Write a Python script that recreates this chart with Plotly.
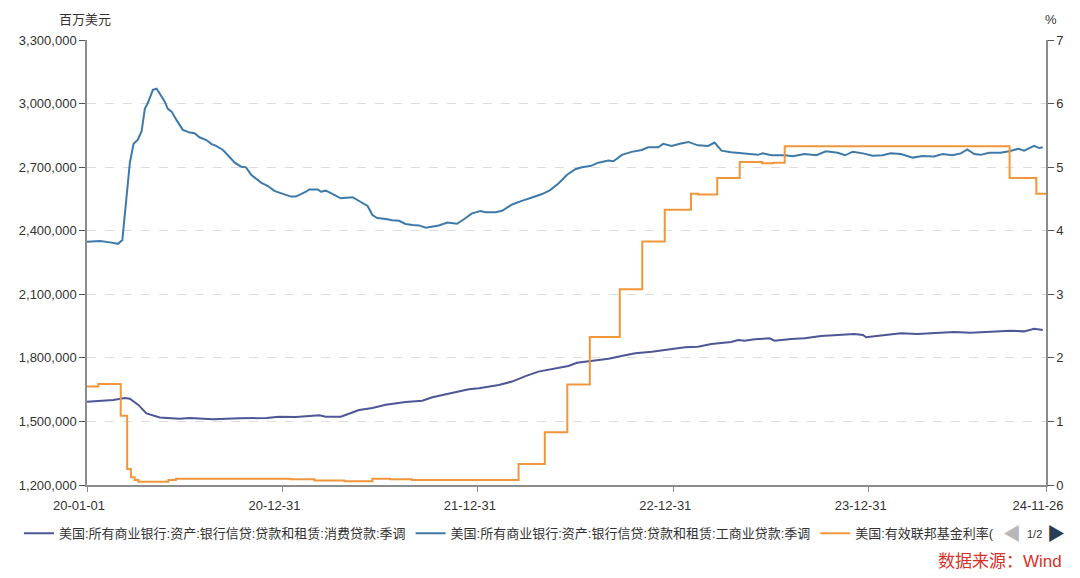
import plotly.graph_objects as go

# ---- data ----
consumer_dates = [
    "2020-01-01", "2020-01-25", "2020-02-19", "2020-03-12", "2020-03-21", "2020-04-06",
    "2020-04-21", "2020-05-16", "2020-06-22", "2020-07-11", "2020-08-23", "2020-10-12",
    "2020-12-01", "2020-12-25", "2021-01-25", "2021-03-10", "2021-03-22", "2021-04-19",
    "2021-05-23", "2021-06-17", "2021-07-12", "2021-08-18", "2021-09-18", "2021-10-07",
    "2021-11-13", "2021-12-14", "2022-01-02", "2022-02-08", "2022-03-05", "2022-03-30",
    "2022-04-23", "2022-05-25", "2022-06-18", "2022-07-04", "2022-08-01", "2022-09-01",
    "2022-10-02", "2022-10-21", "2022-11-21", "2022-12-22", "2023-01-22", "2023-02-15",
    "2023-03-12", "2023-04-18", "2023-05-01", "2023-05-13", "2023-06-01", "2023-06-29",
    "2023-07-08", "2023-08-08", "2023-09-02", "2023-10-03", "2023-11-03", "2023-12-04",
    "2023-12-20", "2023-12-26", "2024-01-23", "2024-02-29", "2024-03-31", "2024-05-07",
    "2024-06-07", "2024-07-08", "2024-08-15", "2024-09-21", "2024-10-16", "2024-11-04",
    "2024-11-20",
]
consumer_values = [
    1593000, 1596000, 1601000, 1611000, 1607000, 1578000,
    1538000, 1519000, 1513000, 1516000, 1510000, 1515000,
    1516000, 1522000, 1521000, 1529000, 1522000, 1522000,
    1554000, 1563000, 1579000, 1592000, 1598000, 1614000,
    1633000, 1652000, 1657000, 1672000, 1688000, 1714000,
    1735000, 1751000, 1762000, 1777000, 1787000, 1796000,
    1812000, 1822000, 1829000, 1841000, 1850000, 1853000,
    1865000, 1875000, 1884000, 1881000, 1888000, 1892000,
    1881000, 1889000, 1892000, 1903000, 1908000, 1913000,
    1908000, 1897000, 1906000, 1916000, 1913000, 1919000,
    1922000, 1919000, 1925000, 1928000, 1925000, 1937000,
    1931000,
]

ci_dates = [
    "2020-01-01", "2020-01-25", "2020-02-13", "2020-02-28", "2020-03-07", "2020-03-21",
    "2020-03-28", "2020-04-05", "2020-04-12", "2020-04-18", "2020-04-24", "2020-05-03",
    "2020-05-10", "2020-05-20", "2020-05-25", "2020-05-31", "2020-06-07", "2020-06-16",
    "2020-06-28", "2020-07-11", "2020-07-20", "2020-07-29", "2020-08-11", "2020-08-20",
    "2020-08-29", "2020-09-11", "2020-09-23", "2020-10-03", "2020-10-15", "2020-10-24",
    "2020-11-03", "2020-11-12", "2020-11-21", "2020-12-04", "2020-12-16", "2020-12-25",
    "2021-01-04", "2021-01-16", "2021-01-25", "2021-02-04", "2021-02-13", "2021-02-19",
    "2021-03-07", "2021-03-13", "2021-03-22", "2021-04-04", "2021-04-19", "2021-05-11",
    "2021-05-26", "2021-06-08", "2021-06-17", "2021-06-26", "2021-07-12", "2021-07-24",
    "2021-08-06", "2021-08-18", "2021-08-31", "2021-09-12", "2021-09-25", "2021-10-07",
    "2021-10-19", "2021-11-04", "2021-11-22", "2021-12-05", "2021-12-20", "2022-01-05",
    "2022-01-14", "2022-02-02", "2022-02-14", "2022-03-05", "2022-03-17", "2022-03-23",
    "2022-04-11", "2022-04-30", "2022-05-15", "2022-05-31", "2022-06-15", "2022-07-01",
    "2022-07-13", "2022-07-29", "2022-08-13", "2022-09-01", "2022-09-10", "2022-09-26",
    "2022-10-14", "2022-11-02", "2022-11-14", "2022-12-03", "2022-12-12", "2022-12-28",
    "2023-01-12", "2023-01-28", "2023-02-15", "2023-03-06", "2023-03-18", "2023-03-31",
    "2023-04-18", "2023-05-13", "2023-06-07", "2023-06-16", "2023-07-02", "2023-07-27",
    "2023-08-11", "2023-09-02", "2023-09-24", "2023-10-12", "2023-11-03", "2023-11-17",
    "2023-12-01", "2023-12-20", "2024-01-07", "2024-01-26", "2024-02-10", "2024-02-29",
    "2024-03-22", "2024-04-09", "2024-05-01", "2024-05-17", "2024-06-04", "2024-06-20",
    "2024-07-02", "2024-07-15", "2024-07-27", "2024-08-12", "2024-09-02", "2024-09-18",
    "2024-10-06", "2024-10-16", "2024-10-25", "2024-11-04", "2024-11-13", "2024-11-20",
]
ci_values = [
    2348000, 2352000, 2345000, 2338000, 2356000, 2720000,
    2810000, 2830000, 2870000, 2975000, 3005000, 3065000,
    3070000, 3033000, 3010000, 2975000, 2962000, 2923000,
    2876000, 2863000, 2860000, 2841000, 2828000, 2810000,
    2800000, 2781000, 2750000, 2721000, 2702000, 2699000,
    2663000, 2647000, 2627000, 2611000, 2588000, 2580000,
    2573000, 2561000, 2561000, 2572000, 2584000, 2595000,
    2595000, 2584000, 2589000, 2573000, 2553000, 2558000,
    2537000, 2517000, 2474000, 2460000, 2455000, 2449000,
    2447000, 2432000, 2427000, 2425000, 2414000, 2419000,
    2425000, 2439000, 2433000, 2454000, 2482000, 2493000,
    2487000, 2487000, 2494000, 2524000, 2537000, 2541000,
    2557000, 2573000, 2592000, 2624000, 2663000, 2690000,
    2699000, 2705000, 2721000, 2731000, 2728000, 2758000,
    2772000, 2781000, 2794000, 2794000, 2810000, 2800000,
    2810000, 2819000, 2803000, 2800000, 2816000, 2778000,
    2770000, 2765000, 2758000, 2765000, 2756000, 2756000,
    2752000, 2762000, 2756000, 2775000, 2768000, 2756000,
    2773000, 2765000, 2754000, 2756000, 2765000, 2762000,
    2745000, 2752000, 2750000, 2762000, 2756000, 2765000,
    2784000, 2762000, 2758000, 2768000, 2768000, 2775000,
    2787000, 2778000, 2787000, 2800000, 2790000, 2794000,
]

ffr_dates = [
    "2020-01-01", "2020-01-22", "2020-03-04", "2020-03-16", "2020-03-23", "2020-03-30",
    "2020-04-06", "2020-06-01", "2020-06-15", "2021-01-15", "2021-03-01", "2021-04-26",
    "2021-06-17", "2021-07-20", "2021-08-30", "2022-03-17", "2022-05-05", "2022-06-16",
    "2022-07-28", "2022-09-22", "2022-11-03", "2022-12-15", "2023-02-02", "2023-02-15",
    "2023-03-23", "2023-05-04", "2023-06-15", "2023-07-05", "2023-07-27", "2024-09-19",
    "2024-11-08", "2024-11-26",
]
ffr_values = [
    1.55, 1.59, 1.09, 0.25, 0.12, 0.08,
    0.05, 0.08, 0.10, 0.09, 0.07, 0.06,
    0.10, 0.09, 0.08, 0.33, 0.83, 1.58,
    2.33, 3.08, 3.83, 4.33, 4.58, 4.57,
    4.83, 5.08, 5.06, 5.07, 5.33, 4.83,
    4.58, 4.58,
]

series_names = [
    "美国:所有商业银行:资产:银行信贷:贷款和租赁:消费贷款:季调",
    "美国:所有商业银行:资产:银行信贷:贷款和租赁:工商业贷款:季调",
    "美国:有效联邦基金利率(",
]

x_tickvals = ["2020-01-01", "2020-12-31", "2021-12-31", "2022-12-31", "2023-12-31", "2024-11-26"]
x_ticktext = ["20-01-01", "20-12-31", "21-12-31", "22-12-31", "23-12-31", "24-11-26"]
left_ticks = [1200000, 1500000, 1800000, 2100000, 2400000, 2700000, 3000000, 3300000]
right_ticks = [0, 1, 2, 3, 4, 5, 6, 7]

FONT = "Liberation Sans, Noto Sans CJK SC, sans-serif"
TXT = "#333333"
AX = "#8c8c8c"

fig = go.Figure()
fig.add_trace(go.Scatter(x=consumer_dates, y=consumer_values, mode="lines",
                         name=series_names[0], line=dict(color="#4d5696", width=2)))
fig.add_trace(go.Scatter(x=ci_dates, y=ci_values, mode="lines",
                         name=series_names[1], line=dict(color="#3e7aa9", width=2)))
fig.add_trace(go.Scatter(x=ffr_dates, y=ffr_values, mode="lines", yaxis="y2",
                         name=series_names[2], line=dict(color="#f0973c", width=2, shape="hv")))

fig.update_layout(
    width=1080, height=578,
    margin=dict(l=87, r=34, t=40, b=93),
    paper_bgcolor="white", plot_bgcolor="white",
    font=dict(family=FONT, size=13, color=TXT),
    showlegend=True,
    legend=dict(orientation="h", x=-0.071, y=-0.075, xanchor="left", yanchor="top",
                font=dict(size=13, color=TXT), itemwidth=30, tracegroupgap=0,
                bgcolor="rgba(0,0,0,0)"),
    xaxis=dict(type="date", range=["2020-01-01", "2024-11-26"],
               tickvals=x_tickvals, ticktext=x_ticktext,
               showgrid=False, zeroline=False,
               showline=True, linecolor=AX, linewidth=1.5,
               ticks="outside", ticklen=5, tickcolor=AX,
               tickfont=dict(size=13, color=TXT), ticklabelshift=-8,
               ticklabelstandoff=3),
    yaxis=dict(range=[1200000, 3300000], tickvals=left_ticks, tickformat=",d",
               showgrid=True, gridcolor="#dcdcdc", griddash="dash", gridwidth=1,
               zeroline=False, showline=True, linecolor=AX, linewidth=1.5,
               ticks="outside", ticklen=6, tickcolor="#555555",
               tickfont=dict(size=13, color=TXT)),
    yaxis2=dict(range=[0, 7], tickvals=right_ticks, overlaying="y", side="right",
                showgrid=False, zeroline=False, showline=True, linecolor=AX, linewidth=1.5,
                ticks="outside", ticklen=6, tickcolor="#555555",
                tickfont=dict(size=13, color=TXT)),
)

annotations = [
    dict(text="百万美元", xref="paper", yref="paper", x=-0.002, y=1.0, yshift=21,
         xanchor="center", yanchor="middle", showarrow=False, font=dict(size=13, color=TXT)),
    dict(text="%", xref="paper", yref="paper", x=1.005, y=1.0, yshift=21,
         xanchor="center", yanchor="middle", showarrow=False, font=dict(size=13, color=TXT)),
    dict(text="◀", xref="paper", yref="paper", x=(1012 - 87) / 959, y=-0.11,
         xanchor="center", yanchor="middle", showarrow=False, font=dict(size=18, color="#b8b8b8")),
    dict(text="1/2", xref="paper", yref="paper", x=(1034 - 87) / 959, y=-0.11,
         xanchor="center", yanchor="middle", showarrow=False, font=dict(size=11, color=TXT)),
    dict(text="▶", xref="paper", yref="paper", x=(1056 - 87) / 959, y=-0.11,
         xanchor="center", yanchor="middle", showarrow=False, font=dict(size=18, color="#2b3d55")),
    dict(text="数据来源：Wind", xref="paper", yref="paper", x=(1064 - 87) / 959, y=-0.171,
         xanchor="right", yanchor="middle", showarrow=False, font=dict(size=17, color="#d8302a")),
]
fig.update_layout(annotations=annotations)

fig.write_html("out.html")
